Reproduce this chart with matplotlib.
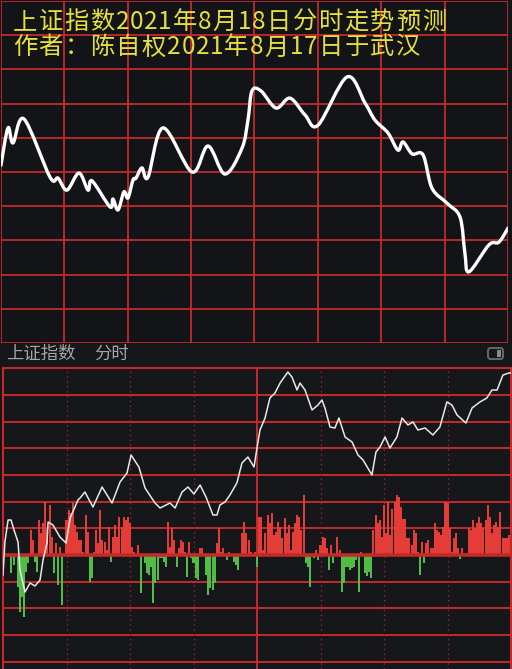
import numpy as np
import matplotlib
matplotlib.use('Agg')
import matplotlib.pyplot as plt
from matplotlib.path import Path
from matplotlib.patches import PathPatch, FancyBboxPatch, Rectangle

plt.rcParams['font.family'] = ['Noto Sans CJK SC', 'DejaVu Sans']

# ---------------- data ----------------
title_line1 = '上证指数2021年8月18日分时走势预测'
title_line2 = '作者：陈自权2021年8月17日于武汉'
header_name = '上证指数'
header_mode = '分时'

# forecast curve (top panel): minute of session, index level
fc_minutes = [0, 3.3, 5.7, 10.9, 23.2, 27.0, 31.2, 36.9, 41.2, 43.1, 51.6, 53.0,
              55.4, 58.2, 60.1, 62.5, 63.9, 66.7, 69.6, 76.7, 90.4, 98.0, 106.0,
              114.1, 116.9, 118.8, 123.1, 130.2, 136.8, 143.9, 150.1, 163.8, 172.3,
              177.0, 183.2, 187.9, 190.3, 194.6, 199.8, 204.0, 211.1, 217.3, 219.6,
              221.5, 231.0, 235.7, 240.0]
fc_values = [3492.0, 3502.9, 3498.5, 3505.5, 3488.5, 3488.2, 3484.7, 3489.7, 3484.7,
             3487.4, 3479.8, 3482.1, 3478.9, 3484.2, 3482.4, 3487.7, 3488.2, 3491.2,
             3488.5, 3502.9, 3490.0, 3497.6, 3489.4, 3497.0, 3505.2, 3513.7, 3513.7,
             3508.7, 3511.6, 3506.7, 3503.7, 3517.8, 3510.2, 3505.2, 3501.4, 3496.4,
             3498.8, 3495.3, 3495.0, 3485.3, 3480.9, 3476.8, 3466.3, 3460.8, 3468.7,
             3469.5, 3473.6]

# actual intraday (bottom panel)
act_minutes = [0, 0.9, 2.4, 3.8, 5.2, 7.1, 8.0, 10.4, 12.8, 15.1, 17.5, 18.9, 20.8,
               21.3, 23.6, 26.9, 29.8, 31.7, 34.0, 35.4, 36.4, 38.7, 42.5, 46.8, 51.5,
               55.3, 58.6, 60.5, 64.2, 67.1, 71.8, 74.2, 78.9, 81.3, 84.6, 87.4, 90.2,
               93.1, 95.9, 99.2, 101.1, 102.5, 104.9, 107.2, 110.5, 112.9, 115.7, 118.6,
               120.0, 121.4, 123.8, 126.1, 128.5, 130.9, 134.6, 136.5, 138.9, 140.3,
               142.7, 146.0, 148.8, 150.7, 152.1, 154.5, 156.8, 158.7, 161.6, 164.9,
               167.7, 170.1, 174.3, 176.2, 178.1, 180.5, 182.8, 186.1, 188.5, 191.3,
               193.7, 196.0, 199.4, 203.1, 206.4, 209.7, 212.1, 214.5, 218.7, 221.6,
               225.3, 228.6, 231.0, 233.4, 236.2, 239.0, 240.0]
act_values = [3496.0, 3502.6, 3507.0, 3507.0, 3505.0, 3502.6, 3497.0, 3492.6, 3494.4,
              3493.8, 3495.0, 3499.0, 3502.4, 3506.6, 3506.0, 3503.6, 3502.4, 3507.4,
              3509.6, 3511.0, 3511.4, 3512.6, 3509.6, 3513.6, 3510.4, 3514.6, 3516.4,
              3520.0, 3517.6, 3513.4, 3510.4, 3509.4, 3510.4, 3509.4, 3512.6, 3513.6,
              3512.2, 3514.0, 3511.6, 3508.0, 3508.0, 3510.0, 3510.6, 3512.0, 3514.4,
              3518.4, 3519.6, 3517.6, 3521.4, 3525.0, 3527.4, 3531.4, 3532.4, 3534.4,
              3536.6, 3535.6, 3533.0, 3534.4, 3533.0, 3529.0, 3530.0, 3531.0, 3529.4,
              3525.6, 3525.4, 3527.4, 3523.6, 3522.6, 3520.0, 3519.0, 3516.0, 3520.6,
              3521.6, 3523.6, 3521.4, 3523.6, 3527.4, 3526.0, 3526.6, 3525.0, 3525.4,
              3524.0, 3525.6, 3530.6, 3530.0, 3528.0, 3526.4, 3529.4, 3530.6, 3531.4,
              3533.0, 3533.0, 3536.0, 3536.4, 3536.4]

# per-minute buy/sell difference bars (red up, green down)
flow_values = [
    0, 0, 0, 0, -18, -10, 0, -32, -57, -42,
    -62, -17, -8, 25, 15, -7, -17, 35, 22, 32,
    53, 27, 50, 18, -18, 12, -30, 8, -50, 0,
    35, 45, 42, 52, 30, 23, 15, 15, 3, 40,
    23, -27, -23, 3, 25, 12, 45, 15, 13, 5,
    28, -7, 18, 30, 18, 38, 28, 38, 35, 38,
    32, 8, 3, 0, 10, -38, 0, -8, -18, -20,
    -12, -48, -28, -25, -3, -3, -7, -12, 33, 8,
    27, 15, -12, 7, 15, 13, 3, -22, 13, -3,
    -8, -23, -25, 7, 7, 0, -20, -40, -33, -35,
    -28, 12, 27, 3, 7, 0, -5, 3, 0, -7,
    -10, -15, 0, 22, 33, 22, 15, 3, 0, 3,
    -12, 38, 38, 5, 22, 40, 32, 42, 20, 23,
    33, 28, 17, 37, 22, 30, 5, 23, 32, 40,
    38, 25, 60, -8, -12, -32, 0, -3, 5, -5,
    10, 18, 17, 7, -15, 10, -8, 0, 18, 5,
    -37, -28, -12, -12, -15, -13, -12, -5, -37, 3,
    0, -18, -21, -17, -23, 25, 40, 32, 35, 18,
    50, 22, 53, 20, 46, 53, 60, 58, 48, 36,
    36, 17, 17, 10, 25, 22, 3, -20, 13, -8,
    12, 15, 7, 7, 32, 25, 23, 20, 28, 53,
    52, 27, 3, 17, 22, 7, -4, 7, 0, 0,
    27, 25, 35, 27, 32, 38, 32, 27, 35, 50,
    38, 22, 30, 33, 28, 43, 17, 17, 17, 20,
    0]

# ---------------- style ----------------
W, H = 512, 669
BG = '#131417'
BG2 = '#16171a'
GRID = '#c42a2a'
DOT = '#9a2424'
YELLOW = '#e6e03c'
RED = '#e43d38'
GREEN = '#52bd46'

fig = plt.figure(figsize=(W / 100, H / 100), dpi=100, facecolor=BG)


def fx(px):
    return px / W


def fy(py):
    return 1 - py / H


def smooth_path(x, y):
    pts = np.column_stack([x, y]).astype(float)
    p = np.vstack([pts[0], pts, pts[-1]])
    verts = [pts[0]]
    codes = [Path.MOVETO]
    for i in range(1, len(p) - 2):
        p0, p1, p2, p3 = p[i - 1], p[i], p[i + 1], p[i + 2]
        c1 = p1 + (p2 - p0) / 6.0
        c2 = p2 - (p3 - p1) / 6.0
        verts += [c1, c2, p2]
        codes += [Path.CURVE4] * 3
    return Path(verts, codes)


def grid_text(s, x0, yc, wide, narrow, **kw):
    """Draw a string as a fixed-pitch row: full-width cells for CJK, half cells for ASCII."""
    x = x0
    for ch in s:
        w = narrow if ord(ch) < 128 else wide
        fig.text(fx(x + w / 2), fy(yc), ch, ha='center', va='center', **kw)
        x += w


# ---------------- top panel ----------------
ax1 = fig.add_axes([fx(1), fy(343), fx(508) - fx(1), fy(1) - fy(343)])
ax1.set_facecolor(BG)
ax1.set_xlim(0, 240)
ax1.set_ylim(3440, 3540)
for k in range(9):
    ax1.axvline(k * 30, color=GRID, lw=1.3, zorder=1)
for k in range(11):
    ax1.axhline(3440 + k * 10, color=GRID, lw=1.3, zorder=1)
ax1.add_patch(PathPatch(smooth_path(fc_minutes, fc_values), fill=False,
                        edgecolor='white', lw=2.4, zorder=3,
                        capstyle='round', joinstyle='round'))
ax1.set_xticks([])
ax1.set_yticks([])
for s in ax1.spines.values():
    s.set_visible(False)

grid_text(title_line1, 12, 22, 25.8, 14.2, color=YELLOW, fontsize=17.5, fontweight='light')
grid_text(title_line2, 12, 47.5, 25.8, 14.2, color=YELLOW, fontsize=17.5, fontweight='light')

# ---------------- header strip ----------------
axh = fig.add_axes([0, fy(367), 1, fy(344) - fy(367)])
axh.set_facecolor(BG2)
axh.set_xlim(0, W)
axh.set_ylim(367, 344)
axh.axis('off')
axh.add_patch(Rectangle((0, 344), W, 23, facecolor=BG2, edgecolor='none'))
axh.text(6, 354, header_name, color='#a4a6a8', fontsize=12.5, ha='left', va='center')
axh.text(94, 354, header_mode, color='#a4a6a8', fontsize=12.5, ha='left', va='center')
axh.add_patch(FancyBboxPatch((488, 348), 15, 11, boxstyle='round,pad=0,rounding_size=2.5',
                             facecolor='none', edgecolor='#6e6e6e', lw=1.3))
axh.add_patch(Rectangle((496.5, 350), 4, 7, facecolor='#8a8a8a', edgecolor='none'))

# ---------------- bottom panel ----------------
vol_lim = (-114, 187)
unit = 26.7
ax2 = fig.add_axes([fx(3), 0, fx(511) - fx(3), fy(368)])
ax2.set_facecolor(BG2)
ax2.set_xlim(0, 240)
ax2.set_ylim(*vol_lim)
ax2.set_xticks([])
ax2.set_yticks([])
for s in ax2.spines.values():
    s.set_color(GRID)
    s.set_linewidth(1.5)
ax2.spines['bottom'].set_visible(False)

for k in range(-4, 8):
    if k == 0:
        continue
    ax2.axhline(k * unit, color=GRID, lw=1.4, zorder=1)
for m in [30, 60, 90, 150, 180, 210]:
    ax2.axvline(m, color=DOT, lw=1.0, ls=(0, (1, 2.5)), zorder=1)
ax2.axvline(120, color=GRID, lw=1.4, zorder=1)

minutes = np.arange(len(flow_values))
flow = np.array(flow_values, dtype=float)
colors = [RED if v >= 0 else GREEN for v in flow]
ax2.bar(minutes, flow, width=0.95, color=colors, zorder=2, linewidth=0)
ax2.axhline(0, color=GRID, lw=2.6, zorder=3)

ax3 = ax2.twinx()
ax3.set_ylim(3500 + 0.2 * vol_lim[0], 3500 + 0.2 * vol_lim[1])
ax3.set_xlim(0, 240)
ax3.plot(act_minutes, act_values, color='#e8e8e8', lw=1.1, zorder=5)
ax3.set_yticks([])
for s in ax3.spines.values():
    s.set_visible(False)

fig.savefig('out.png', dpi=100, facecolor=BG)
